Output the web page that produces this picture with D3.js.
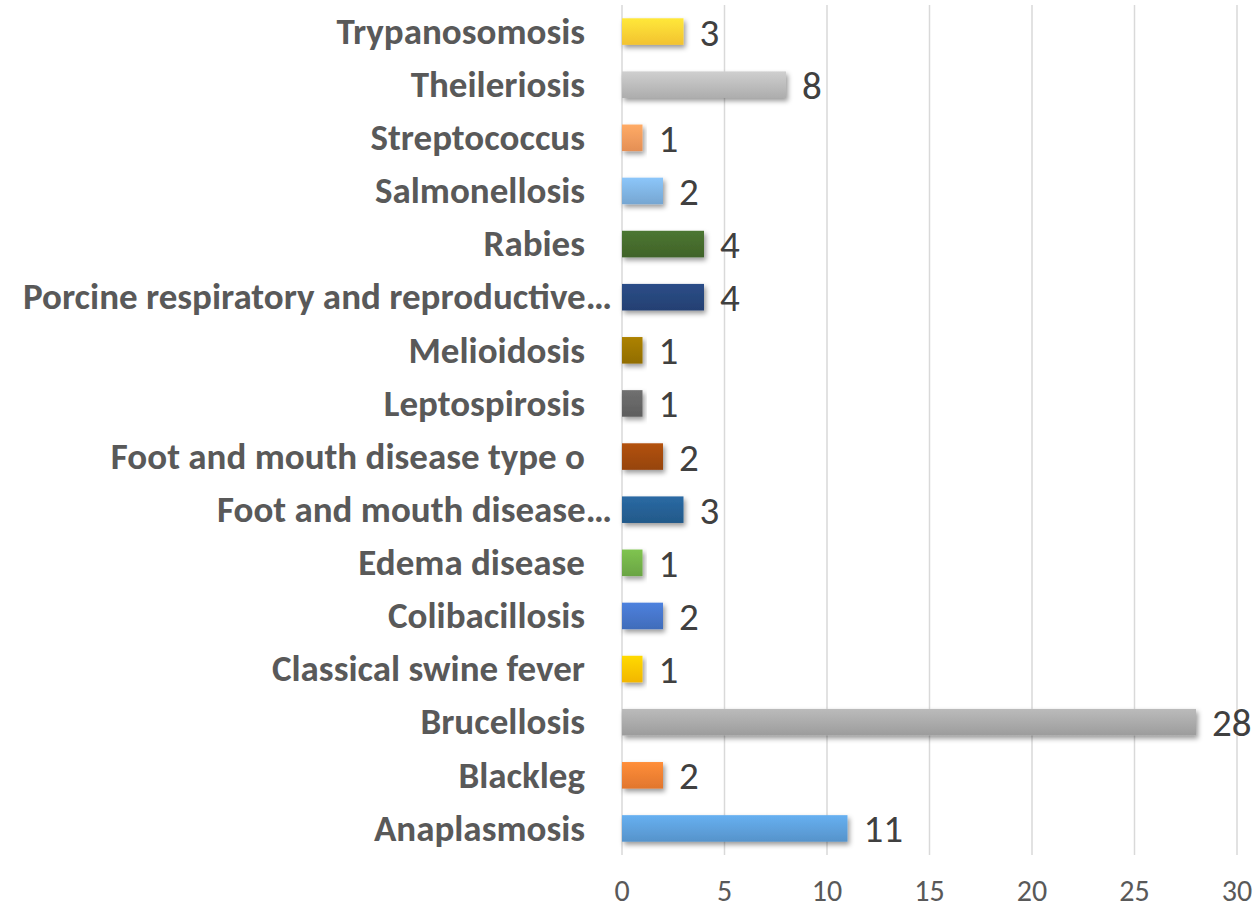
<!DOCTYPE html>
<html>
<head>
<meta charset="utf-8">
<script src="https://cdn.jsdelivr.net/npm/d3@7"></script>
<style>
  body { margin: 0; background: #fff; }
</style>
</head>
<body>
<div id="chart"></div>
<script>
// Categories, bottom to top as in the original chart
const diseases = [
  "Anaplasmosis",
  "Blackleg",
  "Brucellosis",
  "Classical swine fever",
  "Colibacillosis",
  "Edema disease",
  "Foot and mouth disease\u2026",
  "Foot and mouth disease type o",
  "Leptospirosis",
  "Melioidosis",
  "Porcine respiratory and reproductive\u2026",
  "Rabies",
  "Salmonellosis",
  "Streptococcus",
  "Theileriosis",
  "Trypanosomosis"
];
const cases = [11, 2, 28, 1, 2, 1, 3, 2, 1, 1, 4, 4, 2, 1, 8, 3];
const barColors = [
  "#5B9BD5", "#ED7D31", "#A5A5A5", "#FFC000", "#4472C4", "#70AD47",
  "#255E91", "#9E480E", "#636363", "#997300", "#264478", "#43682B",
  "#7CAFDD", "#F1975A", "#B7B7B7", "#FFCD33"
];
const xTicks = [0, 5, 10, 15, 20, 25, 30];

let width = 1258, height = 910;
let margin = { top: 5, right: 21, bottom: 55, left: 622 };
let innerW = width - margin.left - margin.right,
  innerH = height - margin.top - margin.bottom;

let data = diseases.map(function(d, i) {
  return { name: d, value: cases[i], color: barColors[i] };
});

let x = d3.scaleLinear().domain([0, 30]).range([0, innerW]);
let y = d3
  .scaleBand()
  .domain(diseases.slice().reverse())
  .range([0, innerH])
  .paddingInner(0.5)
  .paddingOuter(0.25);

let svg = d3
  .select("#chart")
  .append("svg")
  .attr("width", width)
  .attr("height", height);

let defs = svg.append("defs");

// soft shadow under the bars
let shadow = defs
  .append("filter")
  .attr("id", "shadow")
  .attr("x", "-10%")
  .attr("y", "-30%")
  .attr("width", "130%")
  .attr("height", "190%");
shadow
  .append("feDropShadow")
  .attr("dx", 2)
  .attr("dy", 3)
  .attr("stdDeviation", 2.5)
  .attr("flood-color", "#000")
  .attr("flood-opacity", 0.4);

// one gradient per bar: lighter on top
data.forEach(function(d, i) {
  let g = defs
    .append("linearGradient")
    .attr("id", "grad" + i)
    .attr("x1", 0)
    .attr("y1", 0)
    .attr("x2", 0)
    .attr("y2", 1);
  g.append("stop")
    .attr("offset", "0%")
    .attr("stop-color", d3.color(d.color).brighter(0.35));
  g.append("stop")
    .attr("offset", "100%")
    .attr("stop-color", d3.color(d.color).darker(0.15));
});

let plot = svg
  .append("g")
  .attr("transform", "translate(" + margin.left + "," + margin.top + ")");

// vertical gridlines
plot
  .selectAll(".grid")
  .data(xTicks)
  .enter()
  .append("line")
  .attr("class", "grid")
  .attr("x1", d => x(d))
  .attr("x2", d => x(d))
  .attr("y1", 0)
  .attr("y2", innerH)
  .attr("stroke", "#d9d9d9")
  .attr("stroke-width", 1.5);

// x tick labels
plot
  .selectAll(".xtick")
  .data(xTicks)
  .enter()
  .append("text")
  .attr("class", "xtick")
  .attr("x", d => x(d))
  .attr("y", innerH + 46)
  .attr("text-anchor", "middle")
  .attr("fill", "#595959")
  .style("font-family", "Carlito, 'Liberation Sans', sans-serif")
  .style("font-size", "30px")
  .text(d => d);

// bars
plot
  .selectAll(".bar")
  .data(data)
  .enter()
  .append("rect")
  .attr("class", "bar")
  .attr("x", x(0))
  .attr("y", d => y(d.name))
  .attr("width", d => x(d.value) - x(0))
  .attr("height", y.bandwidth())
  .attr("fill", (d, i) => "url(#grad" + i + ")")
  .attr("filter", "url(#shadow)");

// value labels
plot
  .selectAll(".val")
  .data(data)
  .enter()
  .append("text")
  .attr("class", "val")
  .attr("x", d => x(d.value) + 16)
  .attr("y", d => y(d.name) + y.bandwidth() / 2)
  .attr("dy", "0.36em")
  .attr("fill", "#404040")
  .style("font-family", "Carlito, 'Liberation Sans', sans-serif")
  .style("font-size", "39px")
  .text(d => d.value);

// category labels (truncated ones sit a little further right, like Excel)
plot
  .selectAll(".cat")
  .data(data)
  .enter()
  .append("text")
  .attr("class", "cat")
  .attr("x", d => (d.name.endsWith("\u2026") ? -10 : -37))
  .attr("y", d => y(d.name) + y.bandwidth() / 2)
  .attr("dy", "0.33em")
  .attr("text-anchor", "end")
  .attr("fill", "#595959")
  .style("font-family", "Carlito, 'Liberation Sans', sans-serif")
  .style("font-weight", "bold")
  .style("font-size", "37px")
  .text(d => d.name);
</script>
</body>
</html>
